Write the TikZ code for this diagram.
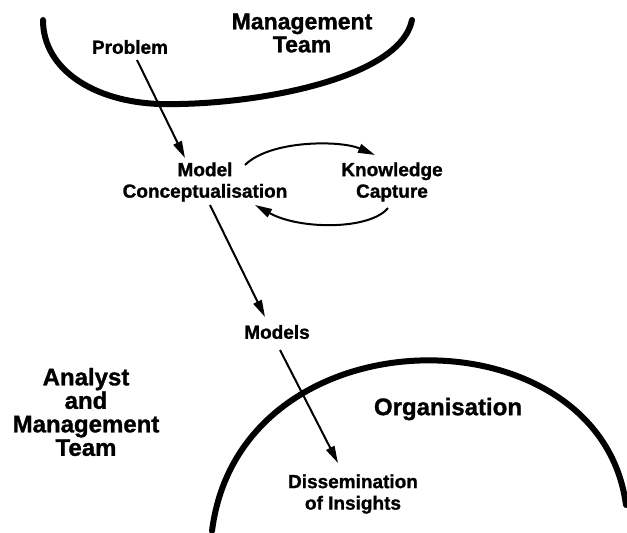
\documentclass[tikz,border=0pt]{standalone}
\usepackage{fontspec}
\setmainfont{Liberation Sans}[BoldFeatures={FakeBold=1.2}]
\usetikzlibrary{arrows.meta,calc}
\tikzset{
  small/.style={font=\bfseries\fontsize{19}{21.5}\selectfont, align=center, inner sep=0pt},
  big/.style={font=\bfseries\fontsize{24}{23.5}\selectfont, align=center, inner sep=0pt},
  title/.style={font=\bfseries\fontsize{23}{23}\selectfont, align=center, inner sep=0pt},
  arr/.style={line width=2pt, -{Triangle[length=17pt,width=9pt]}},
  bound/.style={line width=6pt, line cap=round}
}
\begin{document}
\begin{tikzpicture}[x=1pt,y=-1pt]
\useasboundingbox (0,0) rectangle (627,533);
% boundaries
\draw[bound] (43,20) .. controls (43,70) and (95,102) .. (160,104)
  .. controls (250,106) and (400,80) .. (412,20);
\draw[bound] (212,531) .. controls (240,308) and (600,308) .. (626,505);
% nodes
\node[title] (mt) at (302,33) {Management\\Team};
\node[small] (prob) at (130,47) {Problem};
\node[small] (mc) at (205,182) {Model\\Conceptualisation};
\node[small] (kc) at (392,182) {Knowledge\\Capture};
\node[small] (models) at (277,332) {Models};
\node[big] (amt) at (86,412) {Analyst\\and\\Management\\Team};
\node[big] (org) at (448,409) {Organisation};
\node[small] (dis) at (353,494) {Dissemination\\of Insights};
% connectors
\draw[arr] ($(prob)+(7,13)$) -- ($(mc)+(-20,-24)$);
\draw[arr] ($(mc)+(5,23)$) -- ($(models)+(-12,-15)$);
\draw[arr] ($(models)+(3,18)$) -- ($(dis)+(-15,-31)$);
\draw[arr] ($(mc)+(40,-17)$) .. controls ($(mc)+(65,-42)$) and ($(kc)+(-52,-42)$) .. ($(kc)+(-17,-27)$);
\draw[arr] ($(kc)+(-4,26)$) .. controls ($(kc)+(-22,48)$) and ($(mc)+(95,48)$) .. ($(mc)+(50,23)$);
\end{tikzpicture}
\end{document}
